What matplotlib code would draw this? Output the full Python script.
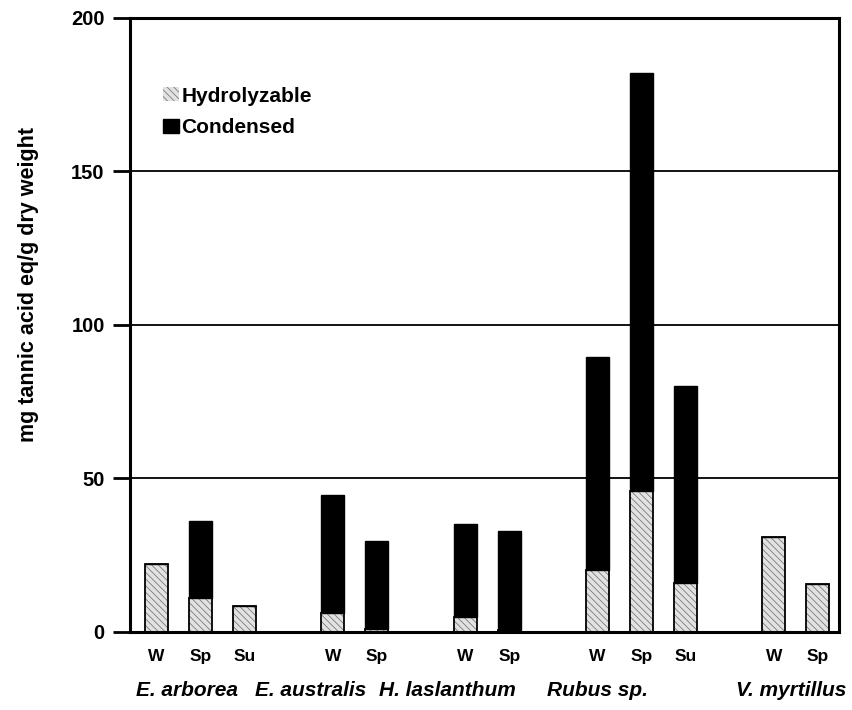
import matplotlib
matplotlib.use("Agg")
import matplotlib.pyplot as plt
import numpy as np

plt.rcParams['font.family'] = ['Liberation Sans', 'DejaVu Sans']
plt.rcParams['hatch.linewidth'] = 0.6

# bar slots (gaps between species)
slots = [0, 1, 2, 4, 5, 7, 8, 10, 11, 12, 14, 15]
seasons = ["W", "Sp", "Su", "W", "Sp", "W", "Sp", "W", "Sp", "Su", "W", "Sp"]
hydrolyzable = [22, 11, 8.5, 6, 1, 5, 0.5, 20, 46, 16, 31, 15.5]
condensed = [0, 25, 0, 38.5, 28.5, 30, 32.5, 69.5, 136, 64, 0, 0]
species = ["E. arborea", "E. australis", "H. laslanthum", "Rubus sp.", "V. myrtillus"]
species_x = [0.68, 3.5, 6.6, 10.0, 14.4]

fig = plt.figure(figsize=(8.53, 7.10), dpi=100)
ax = fig.add_axes([0.152, 0.110, 0.832, 0.865])

x = np.array(slots)
w = 0.52
hyd = np.array(hydrolyzable)
con = np.array(condensed)

ax.bar(x, hyd, w, color="#e2e2e2", hatch="\\\\\\\\\\", edgecolor="#7a7a7a",
       linewidth=0, zorder=2, label="Hydrolyzable")
ax.bar(x, hyd, w, fill=False, edgecolor="black", linewidth=1.3, zorder=3)
ax.bar(x, con, w, bottom=hyd, color="black", edgecolor="black",
       linewidth=1.0, zorder=3, label="Condensed")

ax.set_xlim(-0.61, 15.49)
ax.set_ylim(0, 200)
ax.set_yticks([0, 50, 100, 150, 200])
ax.set_yticklabels(["0", "50", "100", "150", "200"], fontsize=14.5, fontweight="bold")
ax.tick_params(axis="y", length=12, width=2, pad=6)
ax.tick_params(axis="x", length=0, pad=12)
ax.set_xticks(x)
ax.set_xticklabels(seasons, fontsize=12.5, fontweight="bold")

for v in [50, 100, 150]:
    ax.axhline(v, color="black", linewidth=1.3, zorder=1)

for s in ax.spines.values():
    s.set_linewidth(2.2)

for sx, name in zip(species_x, species):
    ax.text(sx, -0.095, name, transform=ax.get_xaxis_transform(), ha="center",
            va="center", fontsize=15, fontweight="bold", fontstyle="italic")

ax.set_ylabel("mg tannic acid eq/g dry weight", fontsize=15.5, fontweight="bold")
ax.yaxis.set_label_coords(-0.128, 0.565)

ax.legend(loc="upper left", bbox_to_anchor=(0.033, 0.905), frameon=False,
          borderpad=0, handlelength=0.75, handleheight=0.65, handletextpad=0.1,
          labelspacing=0.6, prop={"weight": "bold", "size": 15})

fig.savefig("out.png", dpi=100)
